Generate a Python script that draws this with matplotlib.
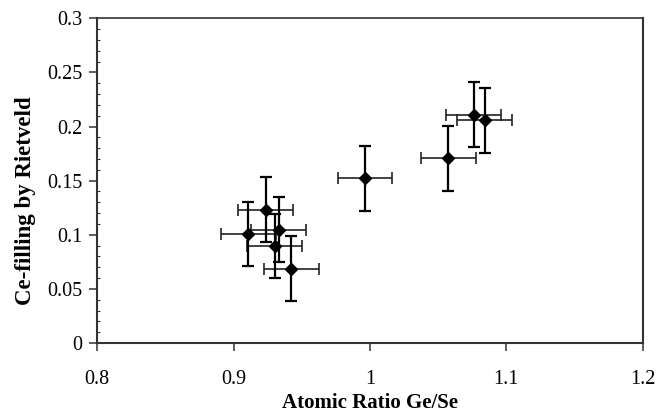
import matplotlib
matplotlib.use("Agg")
import matplotlib.pyplot as plt
from matplotlib.ticker import MultipleLocator

plt.rcParams['font.family'] = ['Liberation Serif', 'DejaVu Serif']

# ratio Ge/Se y llenado de Ce
ratio_ge_se = [0.9235, 0.9107, 0.9330, 0.9301, 0.9423, 0.9963, 1.0574, 1.0761, 1.0841]
ce_filling = [0.1232, 0.1007, 0.1047, 0.0896, 0.0684, 0.1522, 0.1707, 0.2109, 0.2058]
err_ratio = [0.02, 0.02, 0.02, 0.02, 0.02, 0.02, 0.02, 0.02, 0.02]
err_ce = [0.03, 0.03, 0.03, 0.03, 0.03, 0.03, 0.03, 0.03, 0.03]

x_ticks = [0.8, 0.9, 1.0, 1.1, 1.2]
x_labels = ['0.8', '0.9', '1', '1.1', '1.2']
y_ticks = [0, 0.05, 0.1, 0.15, 0.2, 0.25, 0.3]
y_labels = ['0', '0.05', '0.1', '0.15', '0.2', '0.25', '0.3']

fig = plt.figure(figsize=(6.56, 4.12), dpi=100)
ax = fig.add_axes([97.3 / 656, 1 - 343 / 412, (642.7 - 97.3) / 656, (343 - 18.3) / 412])

# barras horizontales un poco mas finas que las verticales
ax.errorbar(ratio_ge_se, ce_filling, xerr=err_ratio, fmt='none',
            ecolor='#222222', elinewidth=1.2, capsize=4, capthick=1.2)
ax.errorbar(ratio_ge_se, ce_filling, yerr=err_ce, fmt='none',
            ecolor='black', elinewidth=1.6, capsize=4, capthick=1.6)
ax.plot(ratio_ge_se, ce_filling, 'D', color='black', markersize=6.5, zorder=5)

ax.set_xlim(0.8, 1.2)
ax.set_ylim(0, 0.3)
ax.set_xticks(x_ticks)
ax.set_xticklabels(x_labels)
ax.set_yticks(y_ticks)
ax.set_yticklabels(y_labels)
ax.yaxis.set_minor_locator(MultipleLocator(0.01))

ax.tick_params(axis='both', which='major', direction='out', length=5.5, width=1.1,
               labelsize=14.5, colors='#333333', labelcolor='black')
ax.tick_params(axis='x', which='major', pad=14)
ax.tick_params(axis='y', which='major', pad=5)
ax.tick_params(axis='y', which='minor', direction='in', length=2.5, width=0.8, colors='#333333')

for s in ax.spines.values():
    s.set_linewidth(1.5)
    s.set_color('#333333')
ax.spines['top'].set_linewidth(1.2)

ax.set_xlabel('Atomic Ratio Ge/Se', fontsize=15, fontweight='bold', labelpad=3)
ax.set_ylabel('Ce-filling by Rietveld', fontsize=16.5, fontweight='bold')
ax.yaxis.set_label_coords(-0.112, 0.437)

fig.savefig('out.png', dpi=100)
